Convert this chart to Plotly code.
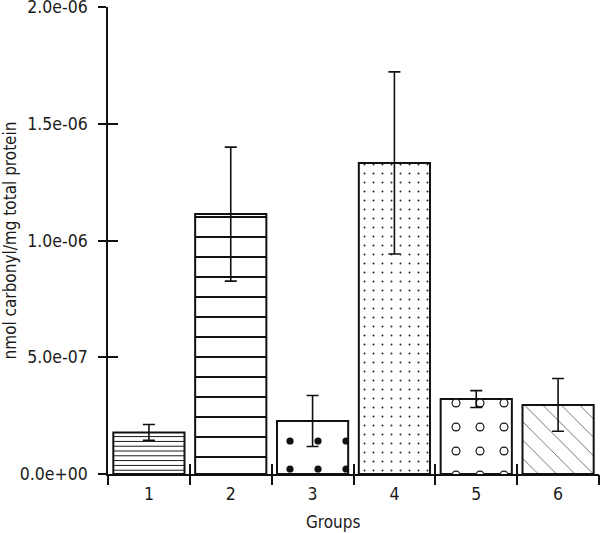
import plotly.graph_objects as go

# ---- data ----
groups = [1, 2, 3, 4, 5, 6]
group_labels = ["1", "2", "3", "4", "5", "6"]
means = [1.78e-07, 1.113e-06, 2.27e-07, 1.332e-06, 3.21e-07, 2.96e-07]
errors = [3.4e-08, 2.87e-07, 1.09e-07, 3.9e-07, 3.6e-08, 1.13e-07]
y_tickvals = [0, 5e-07, 1e-06, 1.5e-06, 2e-06]
y_ticktext = ["0.0e+00", "5.0e-07", "1.0e-06", "1.5e-06", "2.0e-06"]
boundaries = [0.5, 1.5, 2.5, 3.5, 4.5, 5.5, 6.5]

# ---- per-bar fill patterns ----
pat_shape = ["-", "-", ".", ".", ".", "\\"]
pat_size = [4.8, 20, 28, 9, 24, 13]
pat_solidity = [0.21, 0.1, 0.052, 0.035, 0.11, 0.07]
pat_fg = ["#111", "#111", "#111", "#222", "#111", "#666"]

# white inner dots turn bar-5 black dots into rings
ring_shape = ["", "", "", "", ".", ""]
ring_size = [8, 8, 8, 8, 24, 8]
ring_solidity = [0.1, 0.1, 0.1, 0.1, 0.06, 0.1]

FONT = "Liberation Sans Narrow, DejaVu Sans Condensed, Liberation Sans, Arial, sans-serif"
FS = 17.5
FS_TITLE = 17
BAR_W = 0.87

fig = go.Figure()

fig.add_trace(go.Bar(
    x=groups, y=means, width=BAR_W,
    marker=dict(
        color="white",
        line=dict(color="#111", width=2),
        pattern=dict(shape=pat_shape, size=pat_size, solidity=pat_solidity,
                     fgcolor=pat_fg, fgopacity=1, fillmode="overlay"),
    ),
    showlegend=False, hoverinfo="skip",
))

fig.add_trace(go.Bar(
    x=groups, y=means, width=BAR_W,
    marker=dict(
        color="rgba(0,0,0,0)",
        line=dict(width=0),
        pattern=dict(shape=ring_shape, size=ring_size, solidity=ring_solidity,
                     fgcolor="white", fgopacity=1, bgcolor="rgba(0,0,0,0)",
                     fillmode="overlay"),
    ),
    error_y=dict(type="data", array=errors, visible=True,
                 color="#111", thickness=1.6, width=6),
    showlegend=False, hoverinfo="skip",
))

# empty helper traces so the overlaid tick-only axes get drawn
for xa, ya in (("x2", "y"), ("x3", "y"), ("x", "y2")):
    fig.add_trace(go.Scatter(x=[None], y=[None], xaxis=xa, yaxis=ya,
                             mode="markers", showlegend=False, hoverinfo="skip"))

xr = [0.5, 6.5]
yr = [0, 2e-06]
tick_axis = dict(showticklabels=False, showgrid=False, zeroline=False,
                 showline=False, tickcolor="#111", tickwidth=1.6,
                 automargin=False)

fig.update_layout(
    width=600, height=533,
    margin=dict(l=108, r=1, t=7, b=59, autoexpand=False),
    plot_bgcolor="white", paper_bgcolor="white",
    barmode="overlay",
    font=dict(family=FONT, size=FS, color="#1a1a1a"),
    xaxis=dict(
        range=xr, tickmode="array", tickvals=groups, ticktext=group_labels,
        ticks="", showgrid=False, zeroline=False, automargin=False,
        showline=True, linecolor="#111", linewidth=1.6,
        ticklabelstandoff=3, tickfont=dict(size=FS),
    ),
    xaxis2=dict(range=xr, overlaying="x", anchor="y", side="bottom",
                tickmode="array", tickvals=boundaries, ticks="outside",
                ticklen=10, **tick_axis),
    xaxis3=dict(range=xr, overlaying="x", anchor="y", side="bottom",
                tickmode="array", tickvals=boundaries, ticks="inside",
                ticklen=10, **tick_axis),
    yaxis=dict(
        range=yr, tickmode="array", tickvals=y_tickvals, ticktext=y_ticktext,
        ticks="outside", ticklen=8, tickwidth=1.6, tickcolor="#111",
        showgrid=False, zeroline=False, automargin=False,
        showline=True, linecolor="#111", linewidth=1.6,
        ticklabelstandoff=7, ticklabeloverflow="allow", tickfont=dict(size=FS),
        title=dict(text="nmol carbonyl/mg total protein", standoff=10,
                   font=dict(size=FS_TITLE)),
    ),
    yaxis2=dict(range=yr, overlaying="y", anchor="x", side="left",
                tickmode="array", tickvals=y_tickvals, ticks="inside",
                ticklen=10, **tick_axis),
    annotations=[dict(
        text="Groups", xref="paper", yref="paper", x=0.46, y=-0.103,
        xanchor="center", yanchor="middle", showarrow=False,
        font=dict(size=FS_TITLE, family=FONT, color="#1a1a1a"),
    )],
)

fig.write_html(
    "out.html",
    config={"displayModeBar": False},
    post_script="document.body.style.margin='0';document.body.style.overflow='hidden';",
)
